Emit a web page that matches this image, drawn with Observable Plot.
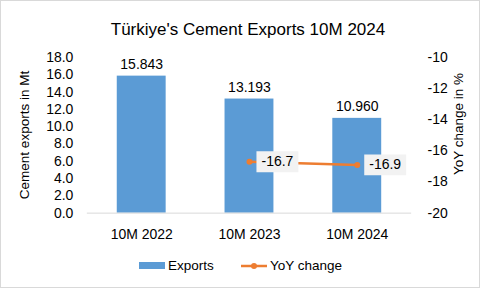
<!DOCTYPE html>
<html>
<head>
<meta charset="utf-8">
<script src="https://cdn.jsdelivr.net/npm/d3@7"></script>
<script src="https://cdn.jsdelivr.net/npm/@observablehq/plot@0.6"></script>
<style>
  html, body { margin: 0; padding: 0; background: #fff; }
  #wrap { position: relative; width: 478px; height: 286px; border: 1px solid #d9d9d9; background: #fff; font-family: "Liberation Sans", Arial, sans-serif; color: #000; overflow: hidden; }
  #title { position: absolute; left: 0; width: 494px; top: 18px; text-align: center; font-size: 17px; line-height: 22px; }
  #chart { position: absolute; left: -1px; top: 43px; }
  .ytitle { position: absolute; font-size: 13.5px; white-space: nowrap; transform: translate(-50%, -50%) rotate(-90deg); line-height: 16px; }
  #legend { position: absolute; top: 257px; left: 0; width: 480px; height: 16px; font-size: 13.5px; }
  .lg { position: absolute; top: 0; line-height: 16px; white-space: nowrap; }
</style>
</head>
<body>
<div id="wrap">
  <div id="title">Türkiye's Cement Exports 10M 2024</div>
  <div class="ytitle" style="left:24px; top:134px;">Cement exports in Mt</div>
  <div class="ytitle" style="left:458px; top:123px;">YoY change in %</div>
  <div id="chart"></div>
  <div id="legend">
    <div class="lg" style="left:138px; top:4px; width:26px; height:7px; background:#5b9bd5;"></div>
    <div class="lg" style="left:167px;">Exports</div>
    <svg class="lg" style="left:239px; top:0;" width="28" height="16"><line x1="1" y1="8" x2="27" y2="8" stroke="#ed7d31" stroke-width="2.5"/><circle cx="14" cy="8" r="3" fill="#ed7d31"/></svg>
    <div class="lg" style="left:269px;">YoY change</div>
  </div>
</div>
<script>
const categories = ["10M 2022", "10M 2023", "10M 2024"];
const exportsMt = [15.843, 13.193, 10.960];
const yoyCategories = ["10M 2023", "10M 2024"];
const yoyChange = [-16.7, -16.9];
const leftTicks = [0, 2, 4, 6, 8, 10, 12, 14, 16, 18];
const rightTicks = [-10, -12, -14, -16, -18, -20];

// right axis (-20..-10) mapped onto left axis (0..18)
const toLeft = v => (v + 20) * 18 / 10;
const fromLeft = d => Math.round(d * 10 / 18 - 20);

const bars = categories.map((c, i) => ({cat: c, v: exportsMt[i]}));
const yoy = yoyCategories.map((c, i) => ({cat: c, v: yoyChange[i], y: toLeft(yoyChange[i])}));

const boxSymbol = { draw(ctx) { ctx.rect(-21, -10.5, 42, 21); } };

const chart = Plot.plot({
  width: 480,
  height: 210,
  marginLeft: 87,
  marginRight: 68,
  marginTop: 13,
  marginBottom: 41,
  style: { fontFamily: "Liberation Sans, Arial, sans-serif", fontSize: "14px", color: "#000", background: "transparent" },
  x: { domain: categories, paddingInner: 0.55, paddingOuter: 0.27 },
  y: { domain: [0, 18] },
  marks: [
    Plot.barY(bars, { x: "cat", y: "v", fill: "#5b9bd5" }),
    Plot.ruleY([0], { stroke: "#d9d9d9", strokeWidth: 1 }),
    Plot.text(bars, { x: "cat", y: "v", text: d => d.v.toFixed(3), dy: -12, fontSize: 14, fill: "#000" }),
    Plot.line(yoy, { x: "cat", y: "y", stroke: "#ed7d31", strokeWidth: 2.5 }),
    Plot.dot(yoy, { x: "cat", y: "y", r: 3, fill: "#ed7d31" }),
    Plot.dot(yoy, { x: "cat", y: "y", symbol: boxSymbol, fill: "#f2f2f2", dx: 28, r: 5 }),
    Plot.text(yoy, { x: "cat", y: "y", text: d => d.v.toFixed(1), dx: 28, fontSize: 14, fill: "#000" }),
    Plot.axisY(leftTicks, { anchor: "left", tickSize: 0, tickPadding: 14, tickFormat: d => d.toFixed(1), label: null, fontSize: 14 }),
    Plot.axisY(rightTicks.map(toLeft), { anchor: "right", tickSize: 0, tickPadding: 16, tickFormat: d => String(fromLeft(d)), label: null, fontSize: 14 }),
    Plot.axisX({ tickSize: 0, tickPadding: 16, label: null, fontSize: 14 })
  ]
});
document.getElementById("chart").appendChild(chart);
</script>
</body>
</html>
